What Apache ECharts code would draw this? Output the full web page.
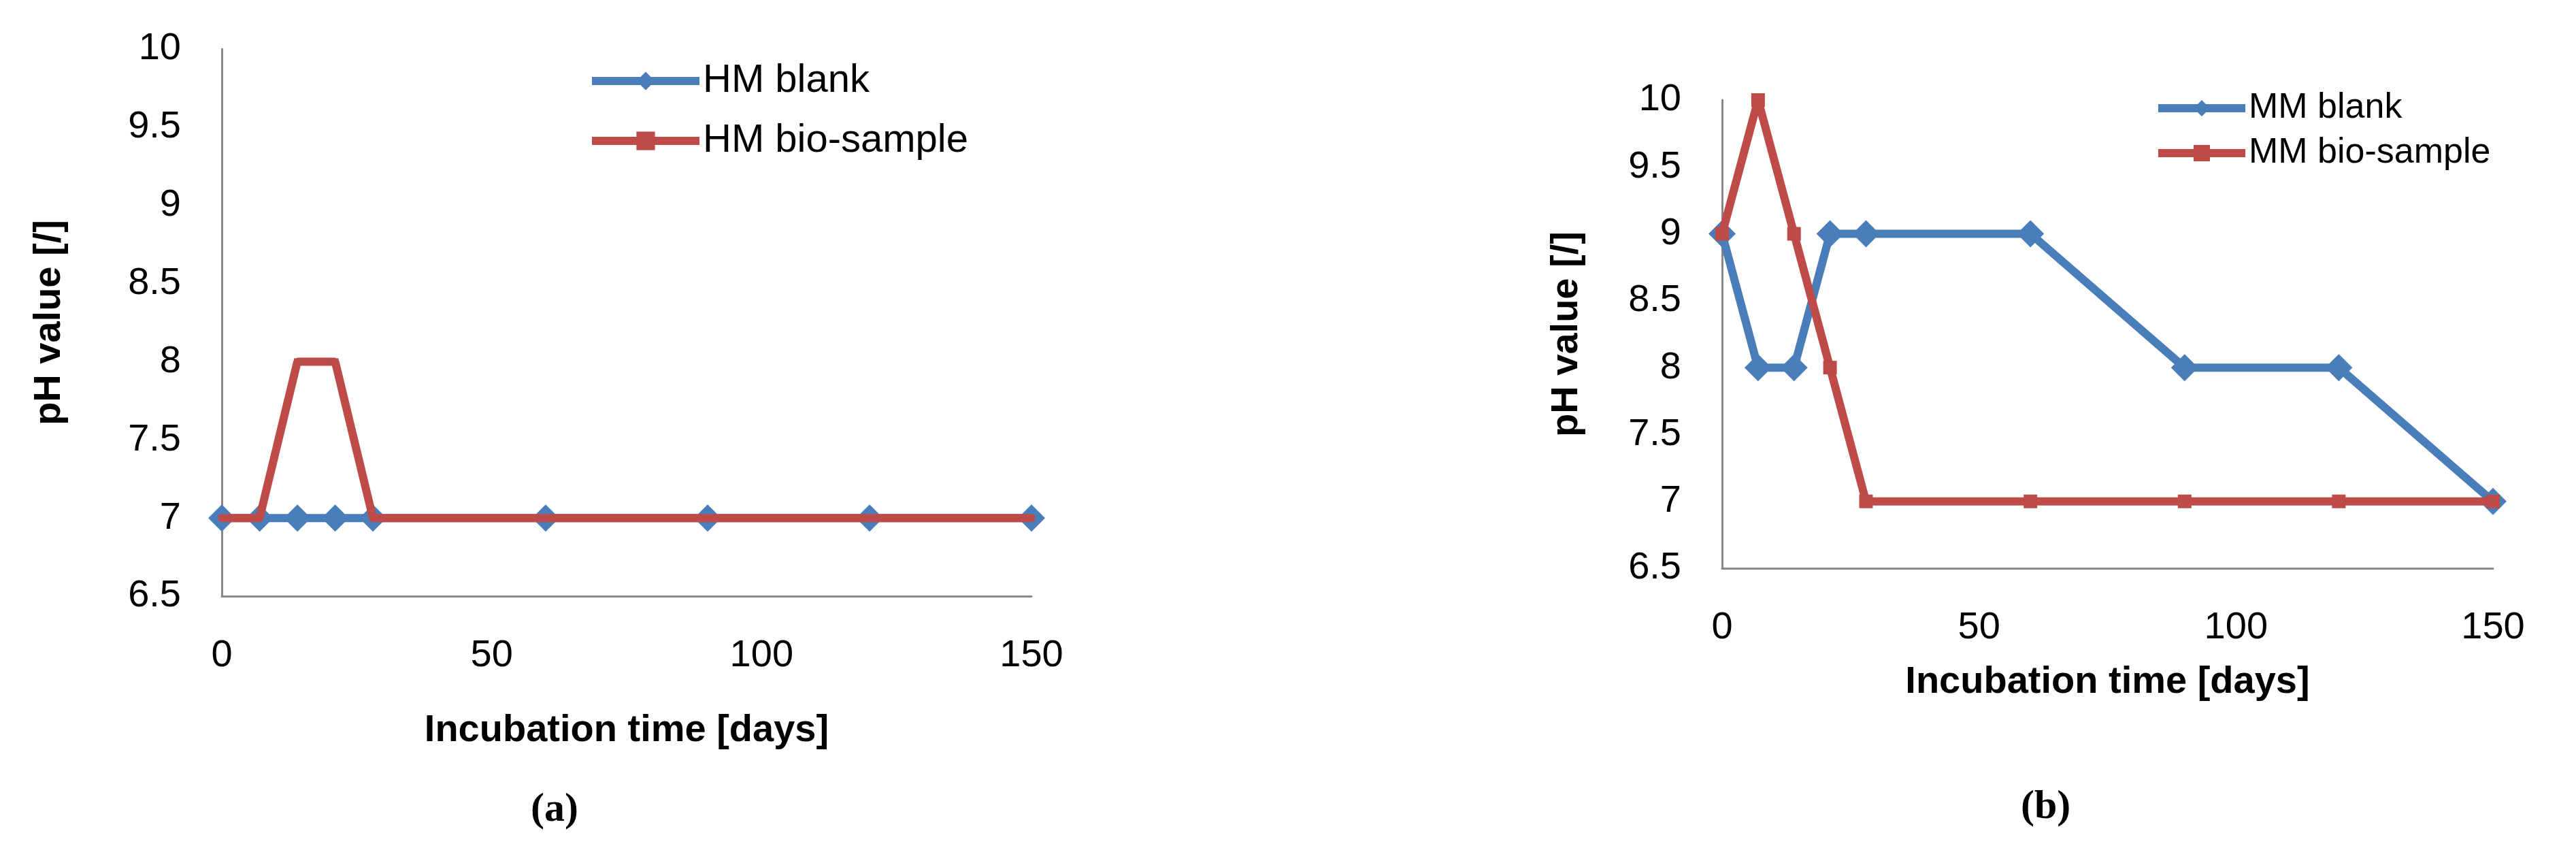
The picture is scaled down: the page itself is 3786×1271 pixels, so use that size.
<!DOCTYPE html>
<html><head><meta charset="utf-8">
<script src="https://cdn.jsdelivr.net/npm/echarts@6/dist/echarts.min.js"></script>
<style>html,body{margin:0;background:#fff}#main{width:3786px;height:1271px}</style>
</head><body><div id="main"></div>
<script>
const daysA = [0, 7, 14, 21, 28, 60, 90, 120, 150];
const hmBlank = [7, 7, 7, 7, 7, 7, 7, 7, 7];
const hmBio = [7, 7, 8, 8, 7, 7, 7, 7, 7];
const daysB = [0, 7, 14, 21, 28, 60, 90, 120, 150];
const mmBlank = [9, 8, 8, 9, 9, 9, 8, 8, 7];
const mmBio = [9, 10, 9, 8, 7, 7, 7, 7, 7];

const font = 'Liberation Sans Narrow, Liberation Sans, sans-serif';
const blue = '#4a7ebb', red = '#be4b48';

function pairs(xs, ys) { return xs.map((x, i) => [x, ys[i]]); }

function xAx(idx, nameGap) {
  return {
    gridIndex: idx, type: 'value', min: 0, max: 150, interval: 50,
    name: 'Incubation time [days]', nameLocation: 'middle', nameGap: nameGap,
    nameTextStyle: {fontFamily: font, fontWeight: 'bold', fontSize: 56, color: '#000'},
    axisLine: {lineStyle: {color: '#888', width: 3}}, axisTick: {show: false},
    splitLine: {show: false},
    axisLabel: {fontFamily: font, fontSize: 56, color: '#000', margin: 60}
  };
}
function yAx(idx, nameGap) {
  return {
    gridIndex: idx, type: 'value', min: 6.5, max: 10, interval: 0.5,
    name: 'pH value [/]', nameLocation: 'middle', nameGap: nameGap,
    nameTextStyle: {fontFamily: font, fontWeight: 'bold', fontSize: 56, color: '#000'},
    axisLine: {show: true, lineStyle: {color: '#888', width: 3}}, axisTick: {show: false},
    splitLine: {show: false},
    axisLabel: {fontFamily: font, fontSize: 56, color: '#000', margin: 60}
  };
}
function line(name, idx, data, color, symbol, size) {
  return {
    name: name, type: 'line', xAxisIndex: idx, yAxisIndex: idx, data: data,
    symbol: symbol, symbolSize: size, lineStyle: {color: color, width: 12},
    itemStyle: {color: color}, z: name.indexOf('bio') >= 0 ? 3 : 2
  };
}

const chart = echarts.init(document.getElementById('main'));
chart.setOption({
  animation: false,
  grid: [
    {left: 326, top: 72, width: 1190, height: 804},
    {left: 2531, top: 147, width: 1133, height: 688}
  ],
  xAxis: [xAx(0, 170), xAx(1, 140)],
  yAxis: [yAx(0, 225), yAx(1, 200)],
  legend: [
    {data: ['HM blank', 'HM bio-sample'], left: 859, top: 85, orient: 'vertical',
     itemWidth: 158, itemHeight: 34, itemGap: 30, lineStyle: {width: 12},
     textStyle: {fontFamily: font, fontSize: 58, color: '#000'}},
    {data: ['MM blank', 'MM bio-sample'], left: 3161, top: 128, orient: 'vertical',
     itemWidth: 128, itemHeight: 30, itemGap: 14, lineStyle: {width: 12},
     textStyle: {fontFamily: font, fontSize: 52, color: '#000'}}
  ],
  series: [
    line('HM blank', 0, pairs(daysA, hmBlank), blue, 'diamond', 40),
    line('HM bio-sample', 0, pairs(daysA, hmBio), red, 'rect', 10),
    line('MM blank', 1, pairs(daysB, mmBlank), blue, 'diamond', 40),
    line('MM bio-sample', 1, pairs(daysB, mmBio), red, 'rect', 20)
  ],
  graphic: [
    {type: 'text', left: 780, top: 1160, style: {text: '(a)', font: 'bold 60px Liberation Serif', fill: '#000'}},
    {type: 'text', left: 2970, top: 1156, style: {text: '(b)', font: 'bold 60px Liberation Serif', fill: '#000'}}
  ]
});
</script></body></html>
